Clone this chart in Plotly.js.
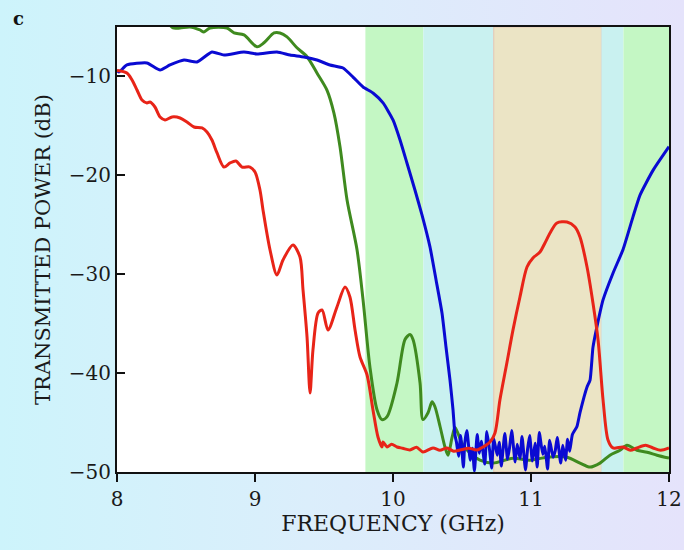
<!DOCTYPE html>
<html>
<head>
<meta charset="utf-8">
<script src="https://cdn.plot.ly/plotly-3.0.1.min.js"></script>
<style>
  html, body { margin: 0; padding: 0; }
  body { width: 684px; height: 550px; background: linear-gradient(to right, #cdf4fb 0%, #dbeefb 45%, #e5e3fb 100%); }
  #chart { width: 684px; height: 550px; }
</style>
</head>
<body>
<div id="chart"></div>
<script>
// ---- Data (frequency in GHz, transmitted power in dB) ----
const blueFreq = [8.00, 8.014, 8.072, 8.217, 8.312, 8.384, 8.486, 8.580, 8.688, 8.775, 8.920, 9.014, 9.159, 9.254, 9.355, 9.449, 9.543, 9.638, 9.710, 9.783, 9.855, 9.928, 10.000, 10.051, 10.101, 10.159, 10.210, 10.268, 10.312, 10.355, 10.384, 10.413, 10.435, 10.449,
  10.46, 10.475, 10.49, 10.51, 10.52, 10.535, 10.56, 10.575, 10.59, 10.61, 10.625, 10.64, 10.665, 10.68, 10.70, 10.715, 10.73, 10.755, 10.77, 10.785, 10.81, 10.83, 10.845, 10.86, 10.885, 10.90, 10.92, 10.935, 10.96, 10.975, 10.99, 11.01, 11.03, 11.045, 11.06, 11.085, 11.10, 11.12, 11.135, 11.16, 11.175, 11.19, 11.215, 11.23, 11.25, 11.265, 11.28, 11.30,
  11.333, 11.355, 11.406, 11.428, 11.449, 11.478, 11.522, 11.594, 11.667, 11.739, 11.790, 11.884, 12.0];
const bluePower = [-9.4, -9.55, -8.84, -8.64, -9.35, -8.84, -8.34, -8.54, -7.53, -7.83, -7.53, -7.73, -7.53, -7.83, -8.03, -8.34, -8.84, -9.15, -10.06, -11.07, -11.67, -12.68, -14.40, -16.43, -18.75, -21.48, -24.0, -27.24, -30.58, -33.92, -37.36, -40.70, -43.73, -46.25,
  -47.0, -48.4, -46.3, -49.5, -47.1, -45.8, -48.8, -47.6, -49.9, -46.2, -48.1, -46.9, -49.2, -45.9, -47.8, -49.6, -46.6, -48.3, -47.0, -49.4, -46.1, -48.7, -47.5, -45.8, -49.0, -47.2, -48.6, -46.4, -49.8, -47.7, -46.3, -48.9, -47.1, -49.5, -46.0, -48.2, -47.4, -49.7, -46.8, -48.5, -47.9, -46.5, -49.1, -47.3, -48.8, -46.7, -47.9, -46.2,
  -45.4, -44.0, -41.4, -40.7, -37.4, -35.3, -32.6, -29.9, -27.5, -24.2, -22.0, -19.5, -17.1];

const greenFreq = [8.00, 8.30, 8.406, 8.457, 8.529, 8.601, 8.630, 8.674, 8.797, 8.848, 8.920, 9.014, 9.065, 9.138, 9.181, 9.232, 9.304, 9.377, 9.449, 9.522, 9.572, 9.616, 9.667, 9.739, 9.783, 9.833, 9.884, 9.920, 9.957, 10.029, 10.087, 10.123, 10.145, 10.196, 10.217, 10.254, 10.283, 10.304, 10.341, 10.377, 10.399, 10.428, 10.449, 10.471, 10.50, 10.558, 10.630, 10.725, 10.870, 10.993, 11.116, 11.261, 11.355, 11.428, 11.50, 11.572, 11.645, 11.696, 11.768, 11.841, 11.913, 12.0];
const greenPower = [-3.0, -3.5, -5.1, -5.1, -5.0, -5.3, -5.5, -5.1, -5.1, -5.6, -5.8, -7.0, -6.6, -5.6, -5.6, -6.0, -7.1, -8.0, -9.65, -11.4, -13.7, -17.1, -22.5, -27.5, -32.6, -39.4, -43.7, -44.7, -44.4, -41.0, -36.6, -36.1, -36.6, -41.0, -44.7, -44.0, -42.9, -43.4, -45.4, -47.5, -48.3, -46.5, -45.5, -46.1, -47.1, -48.1, -48.8, -49.1, -48.6, -48.8, -48.5, -48.5, -49.1, -49.5, -49.1, -48.3, -47.8, -47.3, -47.8, -48.0, -48.3, -48.6];

const redFreq = [8.00, 8.072, 8.109, 8.145, 8.181, 8.217, 8.239, 8.275, 8.312, 8.348, 8.399, 8.457, 8.507, 8.558, 8.616, 8.652, 8.688, 8.725, 8.775, 8.819, 8.862, 8.906, 8.964, 9.00, 9.036, 9.058, 9.109, 9.159, 9.203, 9.275, 9.326, 9.348, 9.377, 9.399, 9.420, 9.457, 9.486, 9.529, 9.594, 9.652, 9.688, 9.725, 9.761, 9.812, 9.855, 9.891, 9.920, 9.928, 9.957, 9.99, 10.029, 10.07, 10.123, 10.17, 10.217, 10.29, 10.34, 10.391, 10.44, 10.486, 10.55, 10.609, 10.652, 10.703, 10.739, 10.775, 10.826, 10.870, 10.920, 10.971, 11.014, 11.065, 11.101, 11.138, 11.188, 11.261, 11.319, 11.355, 11.406, 11.449, 11.486, 11.522, 11.558, 11.594, 11.667, 11.72, 11.768, 11.83, 11.884, 11.94, 12.0];
const redPower = [-9.4, -9.65, -10.36, -11.37, -12.38, -12.68, -12.58, -13.09, -14.10, -14.40, -14.10, -14.20, -14.61, -15.11, -15.21, -15.62, -16.43, -17.74, -19.16, -18.75, -18.55, -19.16, -19.16, -19.66, -21.48, -23.5, -27.55, -30.08, -28.56, -27.04, -28.26, -31.59, -36.34, -42.0, -37.66, -33.92, -33.61, -35.64, -33.31, -31.29, -32.30, -35.64, -38.37, -40.19, -43.73, -46.46, -47.47, -46.96, -47.47, -47.2, -47.47, -47.6, -47.77, -47.5, -47.97, -47.57, -47.8, -47.57, -47.9, -47.77, -47.6, -47.77, -47.47, -46.96, -46.05, -42.7, -38.9, -35.6, -32.3, -29.27, -28.36, -27.75, -26.84, -25.83, -24.82, -24.72, -25.22, -26.23, -29.27, -32.91, -36.65, -42.7, -46.76, -47.57, -47.47, -47.8, -47.57, -47.3, -47.57, -47.8, -47.57];

// Shaded frequency bands (GHz)
const bandStart = [9.80, 10.22, 10.73, 11.51, 11.67];
const bandEnd   = [10.22, 10.73, 11.51, 11.67, 12.00];
const bandColor = ['#c4f7c4', '#c9f1f0', '#ebe4c5', '#c9f1f0', '#c4f7c4'];

const xTicks = [8, 9, 10, 11, 12];
const yTicks = [-50, -40, -30, -20, -10];
const xTickText = ['8', '9', '10', '11', '12'];
const yTickText = ['\u221250', '\u221240', '\u221230', '\u221220', '\u221210'];

const serif = '"DejaVu Serif", "Liberation Serif", serif';

const traces = [
  { x: greenFreq, y: greenPower, mode: 'lines', line: { color: '#3f8a1f', width: 3, shape: 'spline', smoothing: 0.8 }, hoverinfo: 'skip' },
  { x: blueFreq, y: bluePower, mode: 'lines', line: { color: '#0a0ad2', width: 3, shape: 'spline', smoothing: 0.5 }, hoverinfo: 'skip' },
  { x: redFreq, y: redPower, mode: 'lines', line: { color: '#e82418', width: 3, shape: 'spline', smoothing: 0.8 }, hoverinfo: 'skip' }
];

const shapes = bandStart.map((s, i) => ({
  type: 'rect', xref: 'x', yref: 'paper', x0: s, x1: bandEnd[i], y0: 0, y1: 1,
  fillcolor: bandColor[i], line: { width: i === 2 ? 1 : 0, color: '#e3c4b4' }, layer: 'below'
}));

const layout = {
  width: 684, height: 550,
  margin: { l: 117, r: 15, t: 27, b: 78 },
  paper_bgcolor: 'rgba(0,0,0,0)',
  plot_bgcolor: '#ffffff',
  showlegend: false,
  font: { family: serif, color: '#222222' },
  xaxis: {
    range: [8, 12], tickvals: xTicks, ticktext: xTickText,
    showgrid: false, zeroline: false, showline: true, linecolor: '#111', linewidth: 2, mirror: true,
    ticks: 'outside', ticklen: 8, tickwidth: 2, tickcolor: '#111',
    tickfont: { family: serif, size: 20, color: '#1a1a1a' },
    title: { text: 'FREQUENCY (GHz)', font: { family: serif, size: 22, color: '#1a1a1a' }, standoff: 6 }
  },
  yaxis: {
    range: [-50, -5], tickvals: yTicks, ticktext: yTickText,
    showgrid: false, zeroline: false, showline: true, linecolor: '#111', linewidth: 2, mirror: true,
    ticks: 'inside', ticklen: 8, tickwidth: 2, tickcolor: '#111',
    tickfont: { family: serif, size: 20, color: '#1a1a1a' },
    title: { text: 'TRANSMITTED POWER (dB)', font: { family: serif, size: 21, color: '#1a1a1a' }, standoff: 12 }
  },
  shapes: shapes,
  annotations: [{
    text: '<b>c</b>', xref: 'paper', yref: 'paper', x: -0.179, y: 1.02,
    xanchor: 'center', yanchor: 'middle', showarrow: false,
    font: { family: serif, size: 18, color: '#111' }
  }]
};

Plotly.newPlot('chart', traces, layout, { displayModeBar: false, staticPlot: true });
</script>
</body>
</html>
